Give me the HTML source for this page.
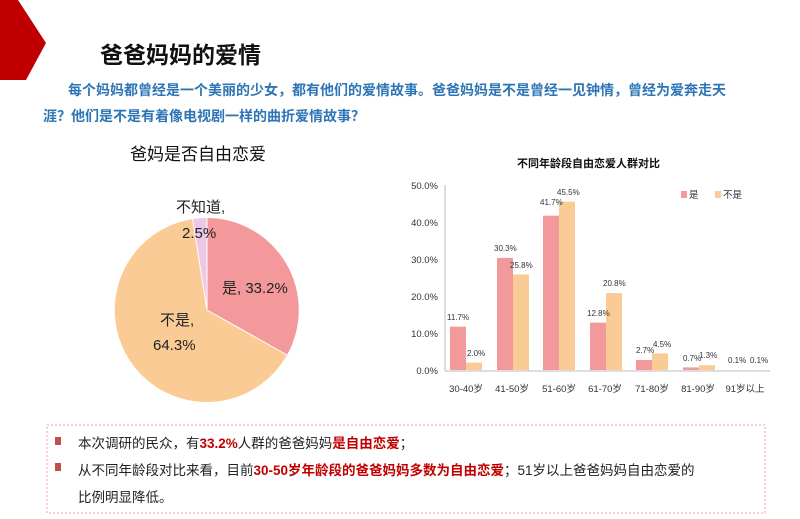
<!DOCTYPE html>
<html><head><meta charset="utf-8">
<style>
body{margin:0;width:800px;height:519px;background:#fff;overflow:hidden;font-family:"Liberation Sans","Noto Sans CJK SC",sans-serif;position:relative}
.t{position:absolute;white-space:nowrap}
</style></head><body>
<svg width="800" height="519" style="position:absolute;left:0;top:0" font-family="Liberation Sans, Noto Sans CJK SC, sans-serif">
<polygon points="0,0,18,0,46,43,26,80,0,80" fill="#c00000"/>
<!-- pie -->
<path d="M207,310 L207,218 A92,92 0 0 1 287,355 Z" fill="#f4999b"/>
<path d="M207,310 L287,355 A92,92 0 1 1 192.6,219.1 Z" fill="#fbcb95"/>
<path d="M207,310 L192.6,219.1 A92,92 0 0 1 207,218 Z" fill="#ecc8e8"/>
<path d="M207,310 L207,218 M207,310 L287,355 M207,310 L192.6,219.1" stroke="#fff" stroke-width="1"/>
<g font-size="15" fill="#222">
<text x="176" y="212">不知道,</text>
<text x="182" y="238">2.5%</text>
<text x="222" y="293">是, 33.2%</text>
<text x="160" y="325">不是,</text>
<text x="153" y="350">64.3%</text>
</g>
<text x="130" y="160" font-size="17" fill="#111">爸妈是否自由恋爱</text>
<!-- bar chart -->
<text x="517" y="167" font-size="11" font-weight="bold" fill="#111">不同年龄段自由恋爱人群对比</text>
<line x1="445" y1="185" x2="445" y2="371" stroke="#bbb"/>
<line x1="445" y1="371" x2="770" y2="371" stroke="#bbb"/>
<g font-size="9.5" fill="#333" text-anchor="end">
<text x="438" y="189">50.0%</text><text x="438" y="226">40.0%</text><text x="438" y="263">30.0%</text><text x="438" y="300">20.0%</text><text x="438" y="337">10.0%</text><text x="438" y="374">0.0%</text>
</g>
<g>
<rect x="450" y="326.7" width="16" height="43.3" fill="#f4999b"/><rect x="466" y="362.6" width="16" height="7.4" fill="#fbcb95"/>
<rect x="497" y="257.9" width="16" height="112.1" fill="#f4999b"/><rect x="513" y="274.5" width="16" height="95.5" fill="#fbcb95"/>
<rect x="543" y="215.7" width="16" height="154.3" fill="#f4999b"/><rect x="559" y="201.7" width="16" height="168.3" fill="#fbcb95"/>
<rect x="590" y="322.6" width="16" height="47.4" fill="#f4999b"/><rect x="606" y="293" width="16" height="77" fill="#fbcb95"/>
<rect x="636" y="360" width="16" height="10" fill="#f4999b"/><rect x="652" y="353.4" width="16" height="16.6" fill="#fbcb95"/>
<rect x="683" y="367.4" width="16" height="2.6" fill="#f4999b"/><rect x="699" y="365.2" width="16" height="4.8" fill="#fbcb95"/>
</g>
<g font-size="8" fill="#333">
<text x="447" y="320">11.7%</text><text x="467" y="356">2.0%</text>
<text x="494" y="251">30.3%</text><text x="510" y="268">25.8%</text>
<text x="540" y="205">41.7%</text><text x="557" y="195">45.5%</text>
<text x="587" y="316">12.8%</text><text x="603" y="286">20.8%</text>
<text x="636" y="353">2.7%</text><text x="653" y="347">4.5%</text>
<text x="683" y="361">0.7%</text><text x="699" y="358">1.3%</text>
<text x="728" y="363">0.1%</text><text x="750" y="363">0.1%</text>
</g>
<g font-size="9.5" fill="#333" text-anchor="middle">
<text x="466" y="392">30-40岁</text><text x="512" y="392">41-50岁</text><text x="559" y="392">51-60岁</text><text x="605" y="392">61-70岁</text><text x="652" y="392">71-80岁</text><text x="698" y="392">81-90岁</text><text x="745" y="392">91岁以上</text>
</g>
<rect x="681" y="191" width="6" height="7" fill="#f4999b"/><text x="689" y="198" font-size="9.5" fill="#333">是</text>
<rect x="715" y="191" width="6" height="7" fill="#fbcb95"/><text x="723" y="198" font-size="9.5" fill="#333">不是</text>
<!-- bottom box -->
<rect x="47" y="425" width="718" height="88" fill="none" stroke="#f0a0a8" stroke-dasharray="2,2"/>
<rect x="55" y="437" width="6" height="8" fill="#c0504d"/>
<rect x="55" y="463" width="6" height="8" fill="#c0504d"/>
</svg>
<div class="t" style="left:100px;top:36px;font-size:23px;font-weight:bold;color:#111">爸爸妈妈的爱情</div>
<div class="t" style="left:68px;top:80px;font-size:14px;font-weight:bold;color:#2e75b6">每个妈妈都曾经是一个美丽的少女，都有他们的爱情故事。爸爸妈妈是不是曾经一见钟情，曾经为爱奔走天</div>
<div class="t" style="left:43px;top:106px;font-size:14px;font-weight:bold;color:#2e75b6">涯？他们是不是有着像电视剧一样的曲折爱情故事？</div>
<div class="t" style="left:78px;top:432px;font-size:13.5px;color:#222">本次调研的民众，有<b style="color:#c00000">33.2%</b>人群的爸爸妈妈<b style="color:#c00000">是自由恋爱</b>；</div>
<div class="t" style="left:78px;top:459px;font-size:13.5px;color:#222">从不同年龄段对比来看，目前<b style="color:#c00000">30-50岁年龄段的爸爸妈妈多数为自由恋爱</b>；51岁以上爸爸妈妈自由恋爱的</div>
<div class="t" style="left:78px;top:486px;font-size:13.5px;color:#222">比例明显降低。</div>
</body></html>
